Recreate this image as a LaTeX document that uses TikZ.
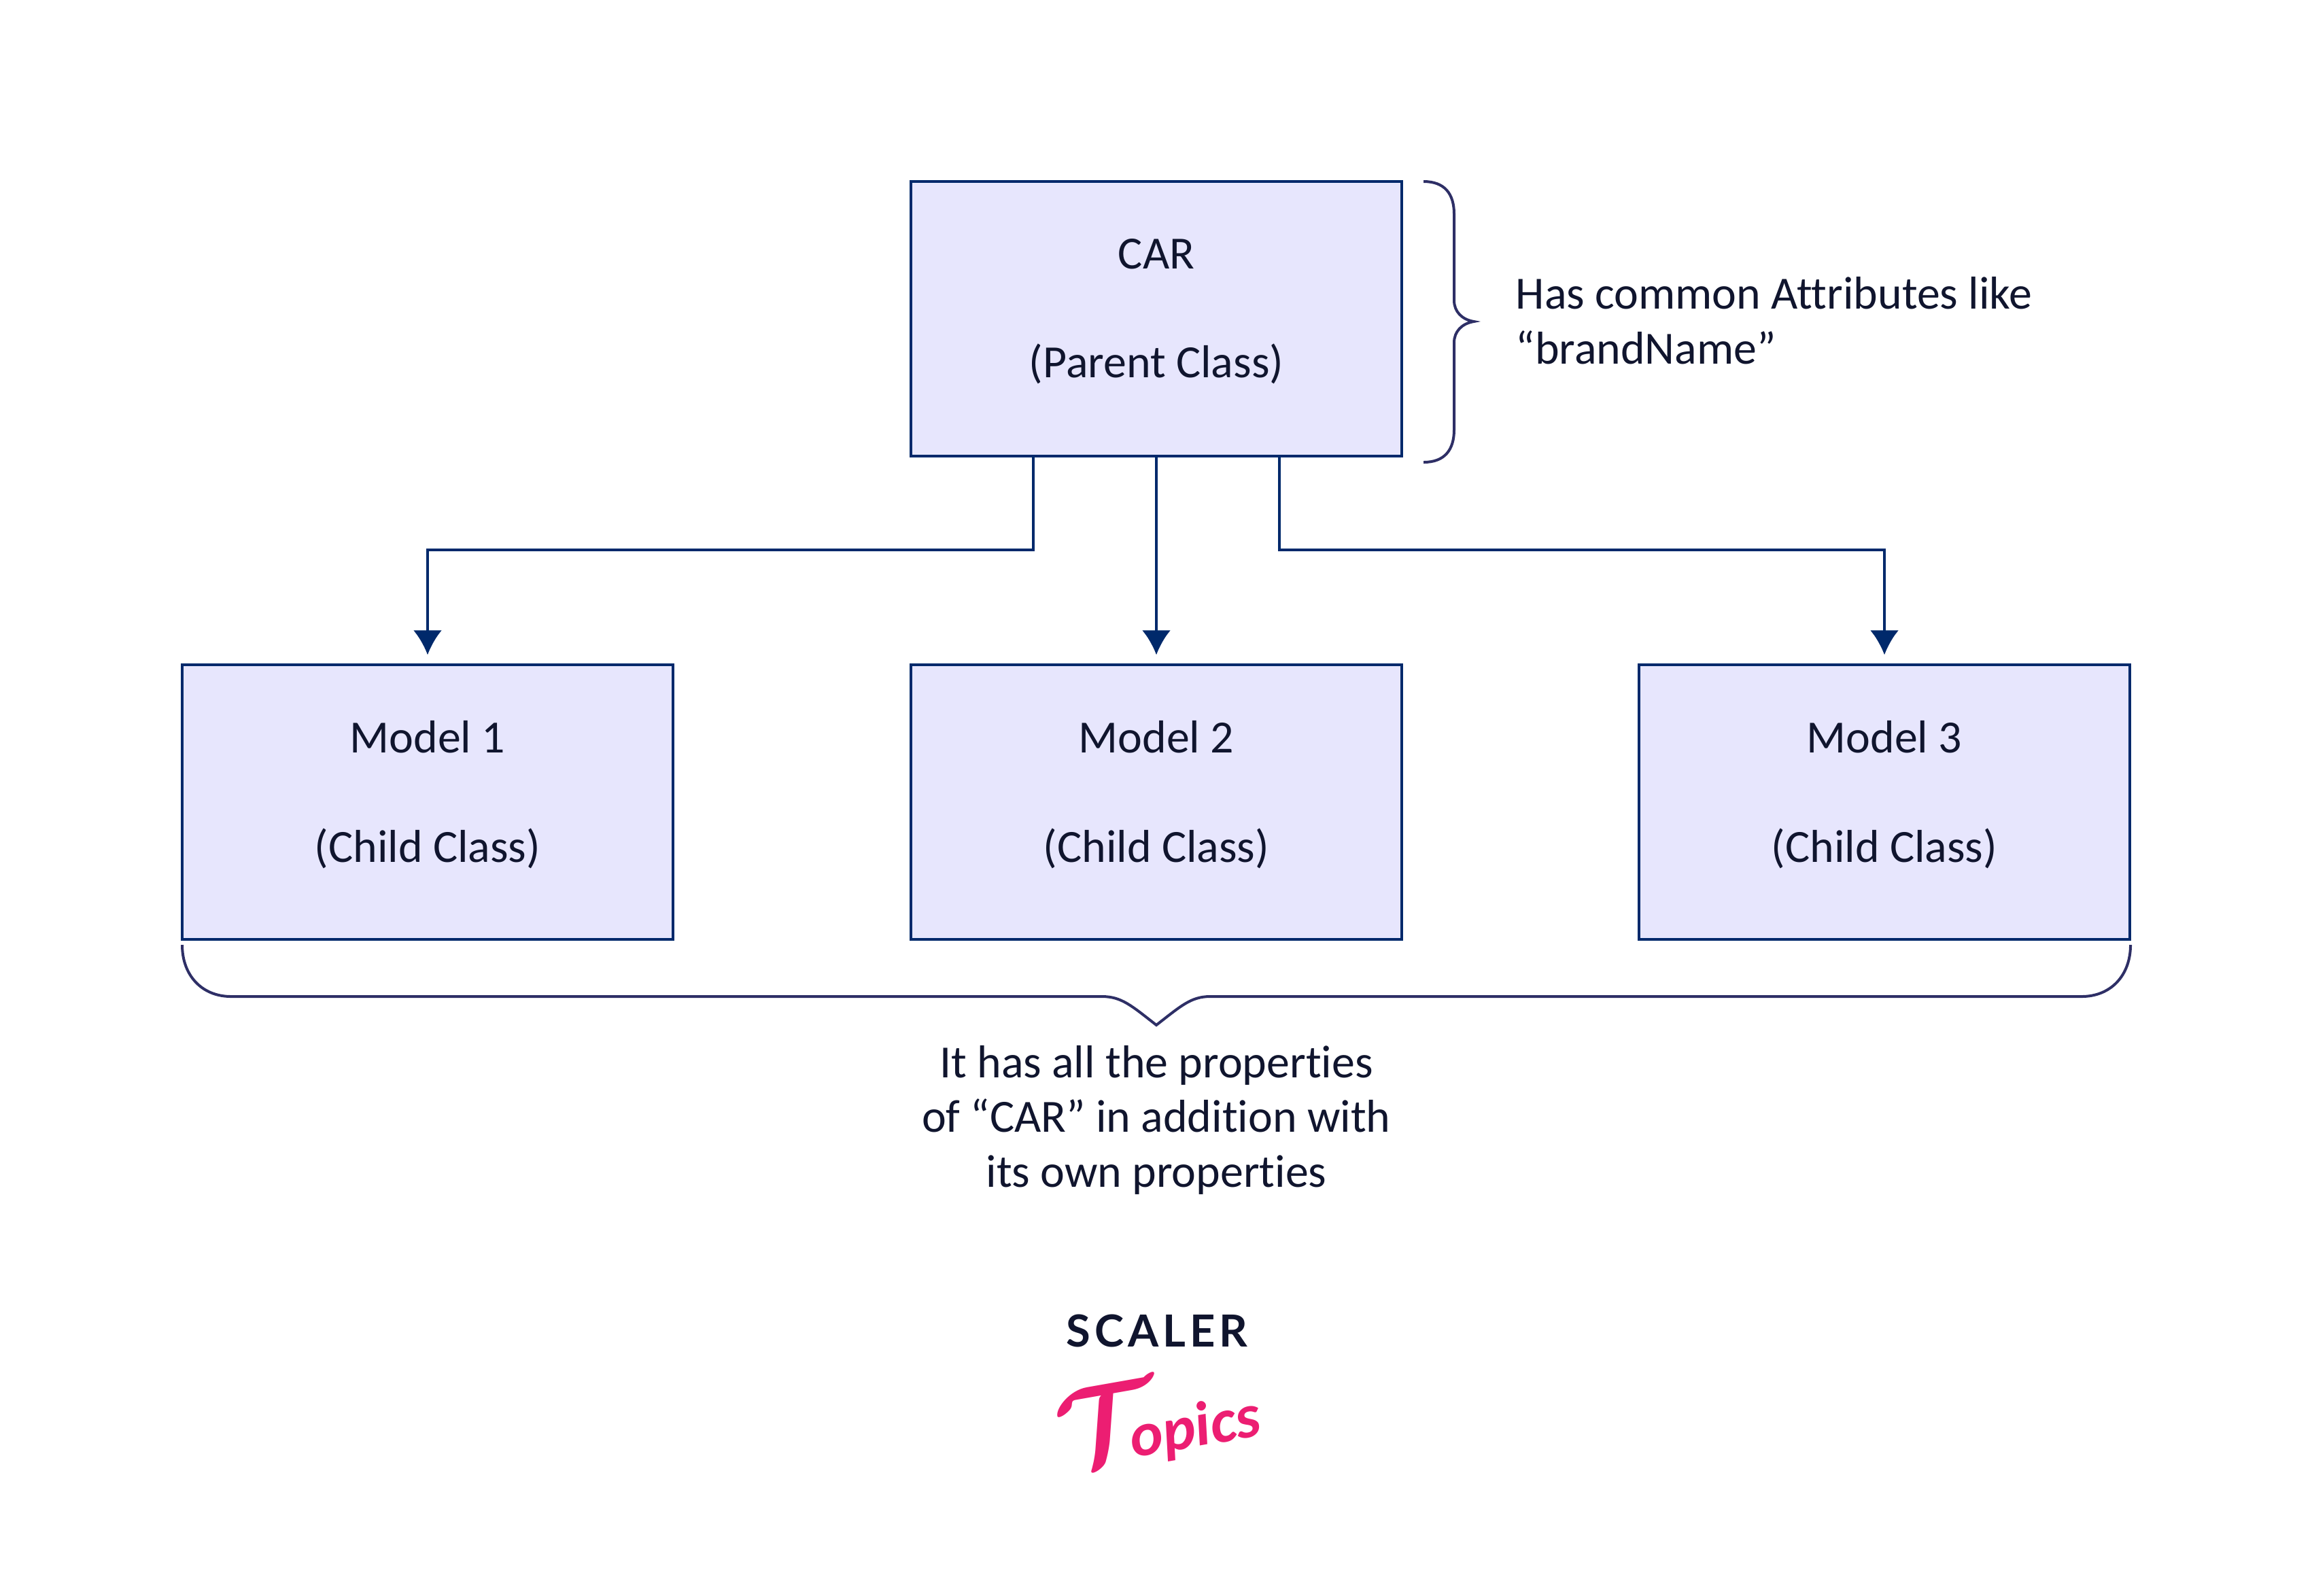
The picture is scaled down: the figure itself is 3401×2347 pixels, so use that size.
\documentclass[tikz,border=0pt]{standalone}
\usepackage{fontspec}
\setmainfont[Ligatures=NoCommon]{Carlito}
\newfontfamily\logofont[LetterSpace=9]{Lato}
\usetikzlibrary{arrows.meta}

\definecolor{boxLine}{HTML}{00296B}
\definecolor{boxFill}{HTML}{E7E6FD}
\definecolor{braceLine}{HTML}{2E2F66}
\definecolor{bodyText}{HTML}{10152E}
\definecolor{logoPink}{HTML}{EC1E72}

\tikzset{
	classBox/.style={draw=boxLine, fill=boxFill, line width=0.04cm, minimum width=7.22cm, minimum height=4.03cm, inner sep=0pt, text=bodyText, align=center, text depth=0.31cm, font=\fontsize{19.3}{22.8}\selectfont},
	noteText/.style={text=bodyText, inner sep=0pt, font=\fontsize{19.3}{22.8}\selectfont},
	linkArrow/.style={draw=boxLine, line width=0.04cm, -{Latex[length=0.36cm, width=0.42cm]}, shorten >=0.13cm},
	curlyLine/.style={draw=braceLine, line width=0.04cm}
}

\begin{document}
\begin{tikzpicture}[x=0.01cm, y=-0.01cm]
	% Fix the page size
	\useasboundingbox (0,0) rectangle (3401,2347);

	% Draw the parent box
	\node[classBox] (car) at (1701,469) {CAR\\[22.8pt](Parent Class)};

	% Draw the child boxes
	\node[classBox] (model1) at (629,1180) {Model 1\\[22.8pt](Child Class)};
	\node[classBox] (model2) at (1701,1180) {Model 2\\[22.8pt](Child Class)};
	\node[classBox] (model3) at (2772,1180) {Model 3\\[22.8pt](Child Class)};

	% Connect parent to children
	\draw[linkArrow] ([xshift=-1.81cm]car.south) -- ++(0,-1.36cm) -| (model1.north);
	\draw[linkArrow] (car.south) -- (model2.north);
	\draw[linkArrow] ([xshift=1.81cm]car.south) -- ++(0,-1.36cm) -| (model3.north);

	% Brace next to the parent
	\draw[curlyLine] (2094,267) .. controls (2125,267) and (2139,285) .. (2139,315)
		-- (2139,442) .. controls (2139,458) and (2150,470) .. (2168,473)
		.. controls (2150,476) and (2139,488) .. (2139,504)
		-- (2139,632) .. controls (2139,662) and (2125,680) .. (2094,680);
	\node[noteText, anchor=base west, align=left] (noteCar) at (2229,535) {Has common Attributes like\\“brandName”};

	% Brace under the children
	\draw[curlyLine] (268,1390) .. controls (268,1435) and (297,1466) .. (340,1466)
		-- (1621,1466) .. controls (1650,1466) and (1665,1480) .. (1701,1508)
		.. controls (1737,1480) and (1752,1466) .. (1780,1466)
		-- (3062,1466) .. controls (3105,1466) and (3134,1435) .. (3134,1390);
	\node[noteText, anchor=base, align=center] (noteModels) at (1701,1746) {It has all the properties\\of “CAR” in addition with\\its own properties};

	% Logo
	\node[inner sep=0pt, anchor=base, text=bodyText, font=\logofont\bfseries\fontsize{18.5}{20}\selectfont] (logoTop) at (1702,1981) {SCALER};
	\node[inner sep=0pt, rotate=10, text=logoPink, font=\fontsize{26}{28}\selectfont\itshape\bfseries] (logoBottom) at (1702,2088) {\scalebox{1.9}{\boldmath$\mathcal{T}$}\kern-0.5em opics};
\end{tikzpicture}
\end{document}
